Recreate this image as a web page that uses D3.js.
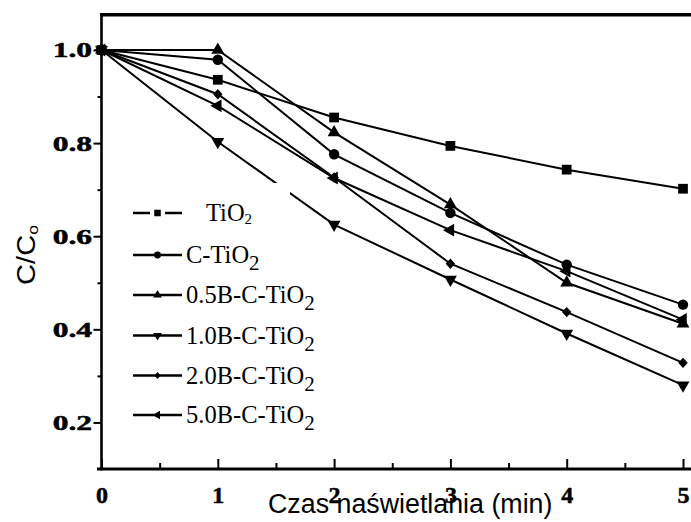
<!DOCTYPE html>
<html><head><meta charset="utf-8">
<script src="https://cdn.jsdelivr.net/npm/d3@7"></script>
<style>html,body{margin:0;padding:0;background:#fff;}svg{display:block;}</style>
</head><body>
<script>
// ---- data ----
const times = [0, 1, 2, 3, 4, 5];
const seriesNames = ["TiO2", "C-TiO2", "0.5B-C-TiO2", "1.0B-C-TiO2", "2.0B-C-TiO2", "5.0B-C-TiO2"];
const valsTiO2   = [1.0, 0.936, 0.855, 0.794, 0.743, 0.702];
const valsCTiO2  = [1.0, 0.979, 0.776, 0.650, 0.539, 0.453];
const vals05B    = [1.0, 1.000, 0.823, 0.668, 0.500, 0.412];
const vals10B    = [1.0, 0.803, 0.625, 0.507, 0.391, 0.280];
const vals20B    = [1.0, 0.905, 0.726, 0.541, 0.437, 0.328];
const vals50B    = [1.0, 0.880, 0.725, 0.613, 0.525, 0.421];
const xTicks = [0, 1, 2, 3, 4, 5];
const xMinorTicks = [0.5, 1.5, 2.5, 3.5, 4.5];
const yTicks = [0.2, 0.4, 0.6, 0.8, 1.0];
const yMinorTicks = [0.3, 0.5, 0.7, 0.9];
const xTitle = "Czas naświetlania (min)";

const allVals = [valsTiO2, valsCTiO2, vals05B, vals10B, vals20B, vals50B];
const markers = ["square", "circle", "up", "down", "diamond", "left"];

const W = 691, H = 522;
const svg = d3.select("body").append("svg").attr("width", W).attr("height", H);

const x = d3.scaleLinear().domain([0, 5]).range([101.5, 683]);
const y = d3.scaleLinear().domain([0.1, 1.0]).range([469, 50]);

const diamondType = {
  draw(ctx, size) {
    const r = Math.sqrt(size) / 2 * 1.2;
    ctx.moveTo(0, -r * 1.1); ctx.lineTo(r, 0); ctx.lineTo(0, r * 1.1); ctx.lineTo(-r, 0); ctx.closePath();
  }
};
function markerPath(kind, big) {
  const s = big ? 1 : 0.45;
  if (kind === "square") return { d: d3.symbol(d3.symbolSquare, 95 * s)(), rot: 0 };
  if (kind === "circle") return { d: d3.symbol(d3.symbolCircle, 85 * s)(), rot: 0 };
  if (kind === "diamond") return { d: d3.symbol(diamondType, 62 * s)(), rot: 0 };
  const t = d3.symbol(d3.symbolTriangle, 72 * s)();
  if (kind === "up") return { d: t, rot: 0 };
  if (kind === "down") return { d: t, rot: 180 };
  return { d: t, rot: -90 };
}

// ---- axes ----
const gx = svg.append("g").attr("transform", `translate(0,${y(0.1)})`);
gx.call(d3.axisBottom(x).tickValues(xTicks).tickSize(-10).tickSizeOuter(0).tickFormat(d3.format("d")));
gx.select(".domain").remove();
gx.selectAll(".tick line").attr("stroke", "#000").attr("stroke-width", 2);
gx.selectAll(".tick text")
  .attr("y", 34).attr("dy", 0)
  .attr("font-family", "'Liberation Serif','Times New Roman',serif")
  .attr("font-weight", "bold").attr("font-size", 24).attr("fill", "#000")
  .attr("stroke", "#000").attr("stroke-width", 0.5);
const gxm = svg.append("g").attr("transform", `translate(0,${y(0.1)})`);
gxm.call(d3.axisBottom(x).tickValues(xMinorTicks).tickSize(-6).tickSizeOuter(0).tickFormat(""));
gxm.select(".domain").remove();
gxm.selectAll(".tick line").attr("stroke", "#000").attr("stroke-width", 2);

const gy = svg.append("g").attr("transform", `translate(${x(0)},0)`);
gy.call(d3.axisLeft(y).tickValues(yTicks).tickSize(8).tickSizeOuter(0).tickFormat(d3.format(".1f")));
gy.select(".domain").remove();
gy.selectAll(".tick line").attr("stroke", "#000").attr("stroke-width", 2);
gy.selectAll(".tick text")
  .attr("x", -6.3).attr("dy", "0.33em")
  .attr("transform", "scale(1.5,1)")
  .attr("font-family", "'Liberation Serif','Times New Roman',serif")
  .attr("font-weight", "bold").attr("font-size", 21).attr("fill", "#000")
  .attr("stroke", "#000").attr("stroke-width", 0.5);
const gym = svg.append("g").attr("transform", `translate(${x(0)},0)`);
gym.call(d3.axisLeft(y).tickValues(yMinorTicks).tickSize(4).tickSizeOuter(0).tickFormat(""));
gym.select(".domain").remove();
gym.selectAll(".tick line").attr("stroke", "#000").attr("stroke-width", 2);

// frame lines
svg.append("line").attr("x1", x(0)).attr("x2", x(0)).attr("y1", 13).attr("y2", 470.5)
  .attr("stroke", "#000").attr("stroke-width", 2.6);
svg.append("line").attr("x1", 97).attr("x2", W).attr("y1", y(0.1)).attr("y2", y(0.1))
  .attr("stroke", "#000").attr("stroke-width", 3);
svg.append("line").attr("x1", x(0) - 1.3).attr("x2", W).attr("y1", 14.8).attr("y2", 14.8)
  .attr("stroke", "#000").attr("stroke-width", 3.4);

// ---- series ----
const line = d3.line().x((d, i) => x(times[i])).y(d => y(d));
const gl = svg.append("g");
allVals.forEach(v => {
  gl.append("path").attr("d", line(v)).attr("fill", "none").attr("stroke", "#000").attr("stroke-width", 2);
});

// white patch behind first legend entry (as in original)
svg.append("rect").attr("x", 192).attr("y", 183).attr("width", 98).attr("height", 48).attr("fill", "#fff");

const gm = svg.append("g");
allVals.forEach((v, si) => {
  const m = markerPath(markers[si], true);
  v.forEach((val, i) => {
    gm.append("path").attr("d", m.d)
      .attr("transform", `translate(${x(times[i])},${y(val)}) rotate(${m.rot})`)
      .attr("fill", "#000");
  });
});

// ---- legend ----
const legendY = [213, 255, 295, 335.5, 375.5, 415];
const lg = svg.append("g");
seriesNames.forEach((name, i) => {
  const yy = legendY[i];
  const g = lg.append("g");
  if (i === 0) {
    g.append("line").attr("x1", 133).attr("x2", 150).attr("y1", yy).attr("y2", yy).attr("stroke", "#000").attr("stroke-width", 2.5);
    g.append("line").attr("x1", 165).attr("x2", 182).attr("y1", yy).attr("y2", yy).attr("stroke", "#000").attr("stroke-width", 2.5);
  } else {
    g.append("line").attr("x1", 133).attr("x2", 182).attr("y1", yy).attr("y2", yy).attr("stroke", "#000").attr("stroke-width", 2.5);
  }
  const m = markerPath(markers[i], false);
  g.append("path").attr("d", m.d).attr("transform", `translate(157.5,${yy}) rotate(${m.rot})`).attr("fill", "#000");
  const base = name.slice(0, -1);
  const t = g.append("text")
    .attr("x", i === 0 ? 206 : 186).attr("y", yy + 8)
    .attr("font-family", "'Liberation Serif','Times New Roman',serif")
    .attr("font-size", 24.5).attr("fill", "#000");
  t.append("tspan").text(base);
  if (i === 0) {
    t.append("tspan").attr("font-size", 15).attr("dy", 3).text("2");
  } else {
    t.append("tspan").attr("font-size", 21).attr("dy", 7).text("2");
  }
});

// ---- titles ----
svg.append("text").attr("x", 268).attr("y", 513)
  .attr("font-family", "'Liberation Sans',Arial,sans-serif").attr("font-size", 26.8).attr("fill", "#000")
  .text(xTitle);

const yt = svg.append("text")
  .attr("transform", "translate(35,285) rotate(-90) scale(1.17,1)")
  .attr("font-family", "'Liberation Sans',Arial,sans-serif").attr("font-size", 25).attr("fill", "#000");
yt.append("tspan").text("C/C");
yt.append("tspan").attr("font-size", 15).attr("dy", 3).text("o");
</script>
</body></html>
